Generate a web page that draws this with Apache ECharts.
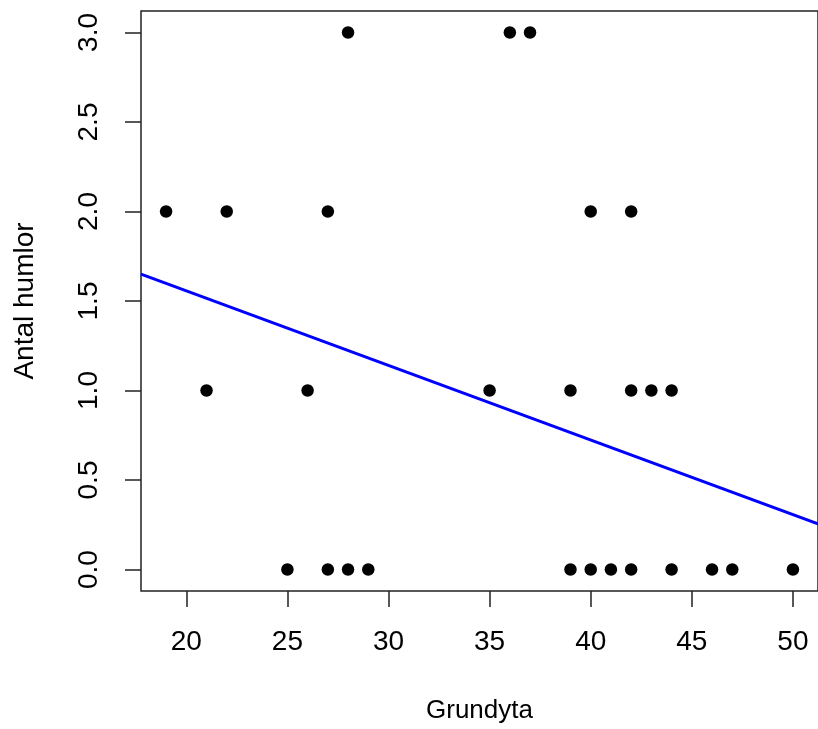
<!DOCTYPE html>
<html>
<head>
<meta charset="utf-8">
<script src="https://cdn.jsdelivr.net/npm/echarts@6/dist/echarts.min.js"></script>
<style>html,body{margin:0;padding:0;background:#fff}#c{width:818px;height:729px}</style>
</head>
<body>
<div id="c"></div>
<script>
var grundyta = [19,21,22,25,26,27,27,28,28,29,35,36,37,39,39,40,40,41,42,42,42,43,44,44,46,47,50];
var humlor   = [2,1,2,0,1,2,0,3,0,0,1,3,3,1,0,2,0,0,2,1,0,1,1,0,0,0,0];
var lineX = [17.76, 51.24];
var lineY = [1.650, 0.255];
var xTicks = [20,25,30,35,40,45,50];
var yTicks = [0,0.5,1,1.5,2,2.5,3];
var xTitle = 'Grundyta';
var yTitle = 'Antal humlor';

var pts = grundyta.map(function(x,i){return [x, humlor[i]];});
var ln = lineX.map(function(x,i){return [x, lineY[i]];});
var font = 'Liberation Sans, Arial, sans-serif';
var chart = echarts.init(document.getElementById('c'), null, {renderer:'canvas'});
chart.setOption({
  animation:false,
  backgroundColor:'#fff',
  grid:{left:141, top:11, width:685, height:581, show:true, borderColor:'#222', borderWidth:1.5, containLabel:false},
  xAxis:{type:'value', min:17.76, max:51.24,
    name:xTitle, nameLocation:'middle', nameGap:107,
    nameTextStyle:{color:'#000', fontSize:26, fontFamily:font},
    axisLine:{show:false, onZero:false}, splitLine:{show:false},
    axisTick:{show:true, inside:false, length:16, lineStyle:{color:'#222', width:1.5}, customValues:xTicks},
    axisLabel:{color:'#000', fontSize:28, fontFamily:font, margin:37, customValues:xTicks}
  },
  yAxis:{type:'value', min:-0.12, max:3.12,
    name:yTitle, nameLocation:'middle', nameGap:102, nameRotate:90,
    nameTextStyle:{color:'#000', fontSize:28, fontFamily:font},
    axisLine:{show:false, onZero:false}, splitLine:{show:false},
    axisTick:{show:true, inside:false, length:16, lineStyle:{color:'#222', width:1.5}, customValues:yTicks},
    axisLabel:{color:'#000', fontSize:28, fontFamily:font, margin:38, rotate:90, customValues:yTicks,
      formatter:function(v){return v.toFixed(1);}}
  },
  series:[
    {type:'line', data:ln, symbol:'none', lineStyle:{color:'#0000ff', width:3}, z:1, clip:true},
    {type:'scatter', data:pts, symbol:'circle', symbolSize:12.5, itemStyle:{color:'#000', opacity:1}, z:2}
  ]
});
</script>
</body>
</html>
